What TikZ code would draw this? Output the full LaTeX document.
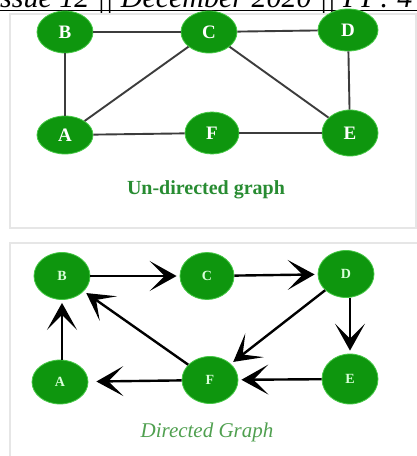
\documentclass[tikz,border=0pt]{standalone}
\usepackage{fontspec}
\setmainfont{Liberation Serif}
\usetikzlibrary{arrows.meta, shapes.geometric}
\definecolor{nodegreen}{RGB}{14,150,14}
\definecolor{rimgreen}{RGB}{70,200,70}
\definecolor{edgegray}{RGB}{60,60,60}
\definecolor{capgreen}{RGB}{40,140,50}
\definecolor{capgreenlight}{RGB}{80,160,80}
\definecolor{panelline}{RGB}{230,230,230}
\tikzset{
  gnode/.style={ellipse, fill=nodegreen, draw=rimgreen, line width=0.8pt,
    minimum width=56pt, minimum height=42pt, inner sep=0pt,
    text=white, font=\fontsize{19}{19}\selectfont\bfseries},
  dnode/.style={gnode, minimum height=47pt, text={green!15!white},
    font=\fontsize{14}{14}\selectfont\bfseries},
  uedge/.style={draw=edgegray, line width=1.9pt},
  dedge/.style={draw=black, line width=2.4pt,
    -{Stealth[length=27pt 0 0, width=30pt 0 0, inset=15pt 0 0]}, shorten >=3pt},
  panel/.style={draw=panelline, line width=1.6pt},
}
\begin{document}
\begin{tikzpicture}[x=1pt, y=-1pt]
  \useasboundingbox (0,0) rectangle (417,456);
  \fill[white] (0,0) rectangle (417,456);
  \begin{scope}
    \clip (0,0) rectangle (417,456);
    % running header, cut at the top edge
    \node[anchor=base west, inner sep=0pt,
      font=\fontsize{30}{30}\selectfont\itshape] (hdr) at (-10,7)
      {Issue 12 || December 2020 || PP: 4};
    \draw[line width=1pt] (0,10) -- (417,10);
    % panels
    \draw[panel] (10,14) rectangle (416,228);
    \draw[panel] (10,243) rectangle (418,460);
  \end{scope}

  % undirected graph
  \node[gnode] (uB) at (65,32) {B};
  \node[gnode] (uC) at (209,32) {C};
  \node[gnode, minimum width=60pt] (uD) at (348,30) {D};
  \node[gnode, minimum height=38pt] (uA) at (65,135) {A};
  \node[gnode, minimum width=54pt] (uF) at (212,133) {F};
  \node[gnode, minimum height=46pt] (uE) at (350,133) {E};
  \draw[uedge] (uB) -- (uC);
  \draw[uedge] (uC) -- (uD);
  \draw[uedge] (uB) -- (uA);
  \draw[uedge] (uA) -- (uC);
  \draw[uedge] (uC) -- (uE);
  \draw[uedge] (uD) -- (uE);
  \draw[uedge] (uA) -- (uF);
  \draw[uedge] (uF) -- (uE);
  \node[font=\fontsize{20}{20}\selectfont\bfseries, text=capgreen] (ucap)
    at (206,190) {Un-directed graph};

  % directed graph
  \node[dnode] (dB) at (62,276) {B};
  \node[dnode, minimum width=54pt] (dC) at (207,276) {C};
  \node[dnode] (dD) at (346,274) {D};
  \node[dnode, minimum height=44pt] (dA) at (60,382) {A};
  \node[dnode] (dF) at (210,380) {F};
  \node[dnode, minimum height=50pt] (dE) at (350,379) {E};
  \draw[dedge] (dB) -- (dC);
  \draw[dedge] (dC) -- (dD);
  \draw[dedge] (dE.north |- dD.south) -- (dE.north);
  \draw[dedge] (dD) -- (dF);
  \draw[dedge] (dE) -- (dF);
  \draw[dedge, shorten >=8pt] (dF) -- (dA);
  \draw[dedge] (dF) -- (dB);
  \draw[dedge] (dA.north -| dB.south) -- (dB.south);
  \node[font=\fontsize{21}{21}\selectfont\itshape, text=capgreenlight] (dcap)
    at (207,432) {Directed Graph};
\end{tikzpicture}
\end{document}
